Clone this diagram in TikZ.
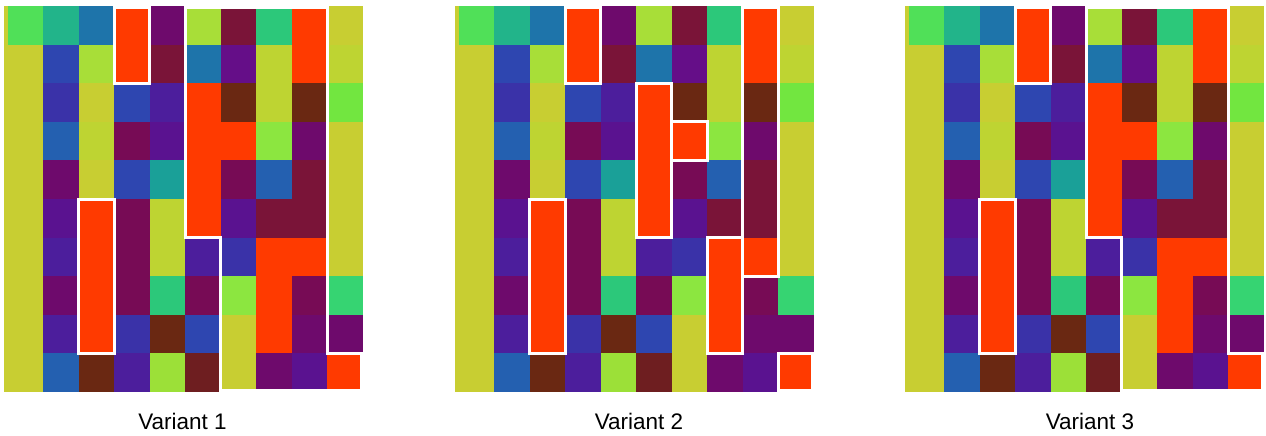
\documentclass[tikz,border=0pt]{standalone}
\usepackage{fontspec}
\setmainfont{Liberation Sans}

\definecolor{cRed}{HTML}{FF3A00}
\definecolor{cGreen}{HTML}{50E058}
\definecolor{cTeal}{HTML}{22B48A}
\definecolor{cCyan}{HTML}{1AA098}
\definecolor{cJade}{HTML}{2CC87A}
\definecolor{cMint}{HTML}{36D472}
\definecolor{cSpring}{HTML}{72E640}
\definecolor{cLeaf}{HTML}{8CE640}
\definecolor{cPear}{HTML}{9CE038}
\definecolor{cLime}{HTML}{A8DE38}
\definecolor{cOlive}{HTML}{BED432}
\definecolor{cYellow}{HTML}{C8CE32}
\definecolor{cSky}{HTML}{1E74AA}
\definecolor{cSteel}{HTML}{2460B0}
\definecolor{cBlue}{HTML}{2E46B0}
\definecolor{cIndigo}{HTML}{3A32A8}
\definecolor{cViolet}{HTML}{4C1E9C}
\definecolor{cGrape}{HTML}{5A1290}
\definecolor{cPlum}{HTML}{650E88}
\definecolor{cPurple}{HTML}{6E0A6C}
\definecolor{cMagenta}{HTML}{770B55}
\definecolor{cWine}{HTML}{7A1438}
\definecolor{cMaroon}{HTML}{6E1E20}
\definecolor{cBrown}{HTML}{6A2812}

\begin{document}
\begin{tikzpicture}[x=1pt, y=-1pt,
        selbox/.style={draw=white, line width=3pt},
        varlabel/.style={font=\fontsize{22.5}{26}\selectfont, anchor=center}
      ]
      \useasboundingbox (0,0) rectangle (1266,436);
      % the same colour matrix in all three panels
      \foreach \gx in {0,451,901} {
        \begin{scope}[shift={(\gx+7.5,6)}, x=35.5pt, y=-38.6pt]
          \fill[cYellow] (-0.1,0) rectangle (1,10);
          \foreach \row [count=\j from 0] in {
              {cGreen,cTeal,cSky,cRed,cPurple,cLime,cWine,cJade,cRed,cYellow},
              {cYellow,cBlue,cLime,cRed,cWine,cSky,cPlum,cOlive,cRed,cOlive},
              {cYellow,cIndigo,cYellow,cBlue,cViolet,cRed,cBrown,cOlive,cBrown,cSpring},
              {cYellow,cSteel,cOlive,cMagenta,cGrape,cRed,cRed,cLeaf,cPurple,cYellow},
              {cYellow,cPurple,cYellow,cBlue,cCyan,cRed,cMagenta,cSteel,cWine,cYellow},
              {cYellow,cGrape,cRed,cMagenta,cOlive,cRed,cGrape,cWine,cWine,cYellow},
              {cYellow,cViolet,cRed,cMagenta,cOlive,cViolet,cIndigo,cRed,cRed,cYellow},
              {cYellow,cPurple,cRed,cMagenta,cJade,cMagenta,cLeaf,cRed,cMagenta,cMint},
              {cYellow,cViolet,cRed,cIndigo,cBrown,cBlue,cYellow,cRed,cPurple,cPurple},
              {cYellow,cSteel,cBrown,cViolet,cPear,cMaroon,cYellow,cPurple,cGrape,cRed}} {
            \foreach \clr [count=\i from 0] in \row
              \fill[\clr] (\i,\j) rectangle ++(1,1);
          }
        \end{scope}
      }
      % Variant 1
      \begin{scope}[shift={(7.5,6)}, x=35.5pt, y=-38.6pt]
        \draw[selbox] (3,0.04) rectangle (4,2);
        \draw[selbox] (2,5) rectangle (3,9);
        \draw[selbox] (5,0.04) -- (9,0.04) -- (9,9) -- (9.96,9) -- (9.96,9.96) -- (6,9.96) -- (6,6) -- (5,6) -- cycle;
      \end{scope}
      % Variant 2
      \begin{scope}[shift={(458.5,6)}, x=35.5pt, y=-38.6pt]
        \draw[selbox] (3,0.04) rectangle (4,2);
        \draw[selbox] (2,5) rectangle (3,9);
        \draw[selbox] (5,2) rectangle (6,6);
        \draw[selbox] (6,3) rectangle (7,4);
        \draw[selbox] (8,0.04) rectangle (9,7);
        \draw[selbox] (7,6) rectangle (8,9);
        \draw[selbox] (9,9) rectangle (9.96,9.96);
      \end{scope}
      % Variant 3
      \begin{scope}[shift={(908.5,6)}, x=35.5pt, y=-38.6pt]
        \draw[selbox] (3,0.04) rectangle (4,2);
        \draw[selbox] (2,5) rectangle (3,9);
        \draw[selbox] (5,0.04) -- (9,0.04) -- (9,9) -- (9.96,9) -- (9.96,9.96) -- (6,9.96) -- (6,6) -- (5,6) -- cycle;
      \end{scope}
      \node[varlabel] (var1) at (182.5,421) {Variant 1};
      \node[varlabel] (var2) at (639,421) {Variant 2};
      \node[varlabel] (var3) at (1090,421) {Variant 3};
    \end{tikzpicture}
\end{document}
